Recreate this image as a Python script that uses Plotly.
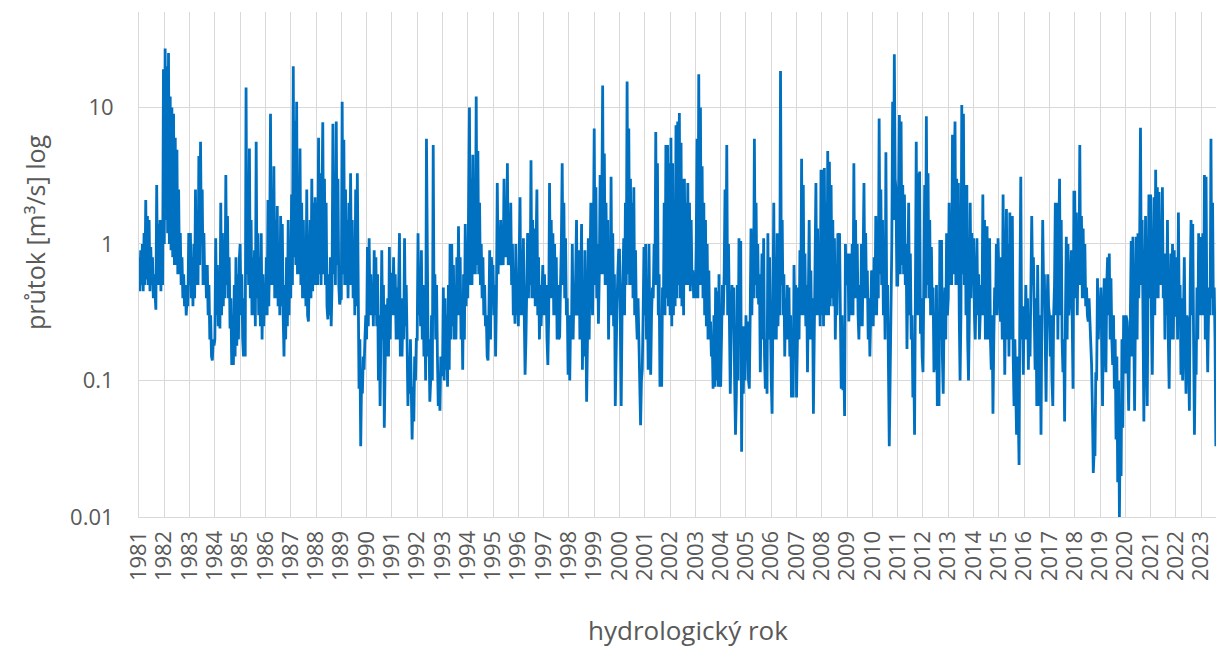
import plotly.graph_objects as go

# Discharge record, hydrological years 1981-2023 (m3/s), read as
# alternating highs and lows through each year.
flow_1981 = [0.8, 0.45, 0.9, 0.5, 1.0, 0.45, 1.2, 0.5, 2.1, 0.55, 1.6, 0.5, 1.5, 0.45, 0.95, 0.5, 0.8, 0.4, 0.6, 0.35, 0.33, 2.7, 0.5, 1.4, 0.5, 1.5, 0.45, 1.2, 0.5, 19]
flow_1982 = [1.0, 27, 1.5, 20, 1.2, 25, 1.0, 12, 0.9, 10, 0.8, 9, 0.7, 6, 0.7, 4.9, 0.6, 2.5, 0.6, 1.2, 0.5, 0.8, 0.4, 0.6, 0.35, 0.5, 0.3, 0.4, 0.35, 1.2]
flow_1983 = [0.5, 1.2, 0.4, 0.8, 0.35, 1.0, 0.4, 2.5, 0.5, 1.5, 0.5, 4.4, 0.7, 5.6, 1.0, 2.5, 0.5, 1.2, 0.5, 0.7, 0.4, 0.7, 0.3, 0.5, 0.2, 0.3, 0.15, 0.14, 0.2, 0.18]
flow_1984 = [0.2, 1.1, 0.3, 0.7, 0.25, 0.5, 0.24, 2.0, 0.3, 1.2, 0.35, 1.0, 0.4, 3.2, 0.5, 1.6, 0.4, 0.8, 0.24, 0.4, 0.13, 0.3, 0.13, 0.5, 0.15, 0.8, 0.18, 0.6, 0.2, 0.78]
flow_1985 = [1.0, 0.3, 0.6, 0.2, 0.15, 0.4, 0.15, 14, 0.6, 3.0, 0.5, 5.0, 0.4, 1.5, 0.3, 0.8, 0.3, 0.9, 0.25, 5.6, 0.4, 1.2, 0.3, 0.8, 0.25, 1.2, 0.2, 0.6, 0.25, 0.5]
flow_1986 = [0.3, 0.8, 0.3, 2.1, 0.35, 1.0, 9.0, 0.5, 2.5, 0.5, 3.7, 0.4, 1.5, 0.4, 1.9, 0.35, 1.0, 0.3, 1.6, 0.35, 1.4, 0.3, 0.15, 0.5, 0.2, 0.8, 0.25, 1.5, 0.3, 1.0]
flow_1987 = [0.4, 2.3, 0.5, 20, 0.8, 8.0, 0.7, 11, 0.6, 3.0, 0.6, 5.0, 0.5, 2.0, 0.4, 1.5, 0.4, 1.0, 0.35, 2.5, 0.3, 0.27, 0.5, 1.5, 0.4, 3.0, 0.45, 2.0, 0.5, 2.2]
flow_1988 = [0.5, 2.0, 0.5, 6.0, 0.6, 3.3, 0.5, 2.5, 7.8, 0.6, 3.0, 0.5, 2.0, 0.35, 0.28, 0.6, 0.3, 0.8, 0.25, 0.5, 7.6, 0.6, 2.5, 0.5, 7.9, 0.7, 3.0, 0.5, 0.36, 0.4]
flow_1989 = [0.4, 11, 0.6, 5.8, 0.5, 2.5, 0.5, 1.5, 0.4, 2.0, 0.5, 3.3, 0.5, 1.5, 0.4, 1.0, 0.3, 2.5, 0.35, 3.3, 0.3, 0.087, 0.2, 0.033, 0.1, 0.08, 0.15, 0.12, 0.2, 0.3]
flow_1990 = [0.2, 0.95, 0.25, 1.1, 0.3, 0.6, 0.3, 0.48, 0.25, 0.9, 0.3, 0.8, 0.25, 0.6, 0.1, 0.3, 0.065, 0.3, 0.9, 0.2, 0.5, 0.045, 0.15, 0.36, 0.15, 0.4, 0.15, 0.95, 0.2, 0.6]
flow_1991 = [0.6, 0.3, 0.8, 0.3, 0.6, 0.2, 0.48, 0.2, 0.5, 1.2, 0.15, 0.4, 0.15, 0.3, 0.2, 1.1, 0.25, 0.5, 0.2, 0.065, 0.15, 0.08, 0.2, 0.05, 0.037, 0.09, 0.05, 0.15, 0.1, 0.2]
flow_1992 = [0.2, 1.2, 0.3, 0.6, 0.25, 0.9, 0.2, 0.5, 0.15, 0.4, 0.1, 5.9, 0.3, 0.15, 0.2, 0.07, 0.1, 0.3, 0.1, 5.3, 0.3, 0.6, 0.2, 0.5, 0.15, 0.065, 0.1, 0.06, 0.15, 0.11]
flow_1993 = [0.11, 0.48, 0.1, 0.4, 0.12, 0.3, 0.09, 0.5, 0.12, 1.0, 0.2, 1.0, 0.25, 0.7, 0.2, 0.5, 0.2, 0.8, 0.3, 1.35, 0.3, 0.8, 0.2, 0.4, 0.12, 0.6, 0.2, 1.4, 0.35, 0.8]
flow_1994 = [0.4, 1.5, 10, 0.5, 3.0, 0.5, 4.5, 0.6, 2.0, 0.6, 12, 0.7, 4.8, 0.6, 2.0, 0.5, 1.0, 0.4, 0.8, 0.3, 0.5, 0.25, 0.3, 0.15, 0.14, 0.3, 0.9, 0.2, 0.8, 0.6]
flow_1995 = [0.7, 0.3, 0.5, 0.15, 0.4, 2.8, 0.6, 1.2, 0.7, 1.5, 0.7, 1.2, 0.7, 3.0, 0.8, 1.5, 0.8, 3.9, 0.7, 1.3, 0.7, 2.0, 0.5, 1.0, 0.3, 0.5, 0.26, 1.0, 0.3, 0.6]
flow_1996 = [0.25, 0.8, 2.2, 0.3, 0.9, 0.3, 1.1, 0.3, 0.11, 0.2, 0.5, 1.2, 0.4, 1.0, 0.5, 4.1, 0.4, 1.5, 0.4, 1.3, 0.35, 0.9, 2.5, 0.3, 0.8, 0.2, 0.5, 0.25, 0.6, 0.7]
flow_1997 = [0.3, 0.6, 0.3, 0.5, 0.2, 0.13, 0.3, 2.8, 0.4, 1.5, 0.4, 1.2, 0.3, 1.0, 0.3, 0.8, 0.2, 0.5, 0.2, 0.21, 0.5, 1.0, 3.9, 0.5, 2.0, 0.4, 1.1, 0.3, 0.4, 0.11]
flow_1998 = [0.3, 0.1, 0.3, 0.2, 1.0, 0.2, 0.5, 0.3, 0.6, 1.5, 0.3, 0.6, 0.9, 0.2, 0.5, 1.4, 0.12, 0.4, 0.15, 0.9, 0.3, 0.07, 0.2, 1.1, 0.2, 0.5, 2.0, 0.6, 0.3, 1.0]
flow_1999 = [7.0, 0.5, 2.6, 0.4, 1.0, 0.26, 0.6, 3.2, 0.6, 2.0, 14.5, 0.6, 4.6, 0.5, 2.0, 0.5, 1.5, 0.2, 0.6, 0.3, 3.1, 0.3, 1.2, 0.25, 0.6, 0.065, 0.3, 0.36, 0.6, 0.9]
flow_2000 = [0.9, 0.3, 0.065, 0.3, 0.5, 1.1, 0.3, 2.0, 0.5, 15.5, 0.6, 7.0, 0.5, 3.0, 0.5, 2.0, 0.4, 2.6, 0.3, 0.9, 0.3, 0.2, 0.4, 0.15, 0.1, 0.047, 0.1, 0.12, 0.3, 0.95]
flow_2001 = [0.3, 1.0, 0.2, 0.5, 0.12, 1.0, 0.2, 0.11, 0.3, 0.48, 0.4, 1.0, 0.5, 6.6, 0.5, 3.9, 0.3, 0.6, 0.09, 0.2, 0.09, 0.48, 0.3, 2.0, 0.3, 5.3, 0.4, 5.3, 0.35, 3.9]
flow_2002 = [0.3, 6.0, 0.25, 3.9, 0.3, 2.0, 0.35, 7.4, 0.4, 7.9, 0.5, 9.1, 0.4, 5.5, 0.35, 3.0, 0.3, 3.0, 0.5, 2.0, 0.5, 2.8, 0.5, 2.0, 0.45, 1.5, 0.5, 0.64, 0.4, 0.5]
flow_2003 = [0.4, 1.0, 5.9, 0.4, 17.5, 0.5, 10, 0.5, 3.7, 0.4, 2.0, 0.3, 1.5, 0.25, 1.0, 0.2, 0.64, 0.2, 0.27, 0.15, 0.2, 0.087, 0.3, 0.09, 0.48, 0.1, 0.45, 0.09, 0.6, 0.1]
flow_2004 = [0.09, 0.2, 0.5, 0.3, 0.6, 2.5, 0.5, 5.3, 0.3, 1.0, 0.3, 0.08, 0.2, 0.5, 0.3, 0.48, 0.1, 0.04, 0.08, 0.5, 0.1, 1.1, 0.3, 1.05, 0.03, 0.25, 0.08, 0.25, 0.1]
flow_2005 = [0.3, 0.15, 0.27, 0.1, 0.087, 0.3, 1.3, 0.3, 0.8, 0.4, 5.9, 0.5, 2.0, 0.4, 1.0, 0.36, 0.6, 0.115, 0.3, 0.85, 0.2, 1.1, 0.15, 0.087, 0.2, 0.08, 1.2, 0.2, 0.8, 0.14]
flow_2006 = [0.1, 0.057, 0.3, 2.0, 0.2, 0.8, 0.2, 1.2, 0.25, 0.64, 0.3, 18.5, 0.5, 1.5, 0.3, 0.6, 0.15, 0.4, 0.2, 0.5, 0.2, 0.48, 0.15, 0.3, 0.075, 0.2, 0.075, 0.7, 0.3, 0.5]
flow_2007 = [0.075, 0.3, 0.48, 0.2, 0.9, 0.3, 4.2, 0.3, 2.7, 0.3, 0.85, 0.25, 0.5, 0.115, 0.3, 1.5, 0.2, 0.64, 0.2, 0.4, 0.057, 0.2, 0.3, 2.8, 0.3, 1.3, 0.3, 0.8, 0.25, 3.5]
flow_2008 = [0.3, 3.5, 0.25, 3.6, 0.3, 2.0, 0.3, 4.8, 0.3, 4.0, 0.35, 2.7, 0.4, 1.5, 0.35, 1.1, 0.2, 0.6, 0.3, 1.2, 0.6, 1.2, 0.3, 0.087, 0.3, 0.085, 0.15, 0.055, 1.0, 0.5]
flow_2009 = [0.6, 0.85, 0.27, 0.5, 0.85, 0.3, 1.0, 0.3, 3.9, 0.4, 1.5, 0.4, 1.0, 0.3, 0.2, 0.5, 0.25, 1.0, 0.25, 0.8, 2.8, 0.4, 1.2, 0.4, 0.64, 0.2, 0.4, 0.15, 0.3, 0.64]
flow_2010 = [0.6, 0.25, 0.8, 0.3, 1.6, 0.3, 1.0, 0.4, 8.3, 0.6, 2.5, 0.5, 1.5, 0.3, 0.8, 0.2, 4.7, 0.3, 0.5, 0.07, 0.033, 0.1, 0.26, 1.0, 11, 1.5, 24.5, 3.0, 2.5, 0.5]
flow_2011 = [0.5, 1.5, 8.8, 0.6, 7.9, 0.7, 2.7, 0.6, 2.3, 0.5, 1.0, 0.17, 0.5, 2.0, 0.3, 0.85, 0.2, 0.3, 0.075, 0.15, 0.04, 0.3, 5.6, 0.3, 3.3, 0.3, 3.4, 0.22, 0.4, 0.15]
flow_2012 = [0.115, 0.5, 2.7, 0.4, 8.6, 0.5, 3.3, 0.4, 1.5, 0.3, 0.95, 0.3, 0.48, 0.115, 0.3, 0.12, 0.5, 0.065, 0.3, 0.065, 1.07, 0.2, 1.07, 0.15, 0.08, 0.3, 0.48, 0.2, 1.2, 0.3]
flow_2013 = [0.4, 2.0, 0.5, 1.5, 0.5, 6.3, 0.6, 3.0, 7.9, 0.5, 3.0, 0.5, 2.8, 0.3, 0.1, 0.3, 10.4, 0.6, 9.0, 0.5, 2.7, 0.3, 2.7, 0.2, 0.1, 0.3, 2.0, 0.4, 1.2, 0.5]
flow_2014 = [1.1, 0.3, 0.2, 0.5, 1.1, 0.3, 0.6, 0.2, 0.36, 0.5, 0.3, 2.3, 0.3, 1.5, 0.2, 0.8, 1.35, 0.2, 0.6, 1.1, 0.2, 0.12, 0.3, 0.057, 0.2, 0.48, 0.3, 1.0, 0.3, 1.1]
flow_2015 = [0.64, 0.3, 0.27, 0.8, 0.2, 2.3, 0.3, 0.11, 0.4, 1.8, 0.2, 1.0, 0.15, 1.7, 0.2, 0.8, 1.6, 0.15, 0.065, 0.2, 0.05, 0.04, 0.15, 0.03, 0.024, 0.5, 3.1, 0.2, 0.3, 0.11]
flow_2016 = [0.35, 0.2, 0.5, 0.2, 0.4, 0.12, 0.3, 0.15, 0.4, 1.6, 0.5, 0.8, 0.3, 0.12, 0.4, 0.065, 0.7, 0.2, 0.065, 0.3, 0.04, 0.3, 1.5, 0.5, 0.6, 0.2, 0.07, 0.3, 0.6, 0.35]
flow_2017 = [0.3, 0.15, 0.3, 0.1, 0.065, 0.3, 0.5, 2.0, 0.3, 2.0, 0.2, 1.0, 3.0, 0.3, 1.5, 0.2, 0.115, 0.2, 0.05, 0.3, 1.13, 0.2, 1.0, 0.3, 0.36, 0.5, 0.9, 0.2, 0.087, 2.4]
flow_2018 = [2.4, 0.4, 1.7, 0.3, 1.0, 0.5, 5.3, 0.5, 1.6, 0.4, 1.3, 0.4, 1.0, 0.35, 0.48, 0.3, 0.27, 0.4, 0.28, 0.2, 0.13, 0.06, 0.021, 0.03, 0.028, 0.115, 0.1, 0.56, 0.2, 0.36]
flow_2019 = [0.3, 0.48, 0.2, 0.065, 0.3, 0.56, 0.2, 0.115, 0.5, 0.8, 0.3, 0.85, 0.2, 0.56, 0.2, 0.13, 0.3, 0.087, 0.2, 0.037, 0.15, 0.018, 0.1, 0.01, 0.05, 0.02, 0.2, 0.045, 0.3, 0.115]
flow_2020 = [0.115, 0.3, 0.27, 0.1, 0.06, 0.2, 0.3, 1.05, 0.15, 1.13, 0.2, 0.06, 0.3, 1.13, 0.2, 1.2, 0.4, 1.0, 7.1, 0.5, 1.5, 0.2, 0.05, 0.3, 1.6, 0.2, 0.065, 0.5, 2.3, 0.4]
flow_2021 = [2.3, 0.3, 0.11, 0.5, 2.2, 0.3, 3.5, 0.4, 2.6, 0.4, 2.4, 0.5, 1.0, 0.5, 2.6, 0.4, 0.85, 0.2, 0.85, 0.3, 1.5, 0.2, 0.087, 0.3, 0.85, 0.2, 1.0, 0.2, 0.9, 0.3]
flow_2022 = [0.3, 0.8, 0.2, 1.7, 0.3, 0.5, 0.11, 0.4, 0.1, 0.3, 0.8, 0.2, 0.08, 0.3, 0.27, 0.15, 0.06, 0.5, 1.5, 0.3, 1.4, 0.2, 0.04, 0.15, 0.11, 0.48, 0.2, 1.2, 0.3, 1.1]
flow_2023 = [1.1, 0.3, 1.2, 0.3, 3.2, 0.2, 3.1, 0.3, 0.115, 0.3, 0.48, 0.3, 5.9, 0.4, 2.0, 0.3, 0.48, 0.2, 0.033]

years = list(range(1981, 2024))
year_labels = [str(y) for y in years]
flows = [flow_1981, flow_1982, flow_1983, flow_1984, flow_1985, flow_1986, flow_1987,
         flow_1988, flow_1989, flow_1990, flow_1991, flow_1992, flow_1993, flow_1994,
         flow_1995, flow_1996, flow_1997, flow_1998, flow_1999, flow_2000, flow_2001,
         flow_2002, flow_2003, flow_2004, flow_2005, flow_2006, flow_2007, flow_2008,
         flow_2009, flow_2010, flow_2011, flow_2012, flow_2013, flow_2014, flow_2015,
         flow_2016, flow_2017, flow_2018, flow_2019, flow_2020, flow_2021, flow_2022,
         flow_2023]
record_end = 2023.58  # the last year of the record is incomplete

y_ticks = [0.01, 0.1, 1, 10]
y_tick_labels = ["0.01", "0.1", "1", "10"]

# Spread each year's samples evenly over its time span
t, q = [], []
for yr, vals in zip(years, flows):
    if yr == years[-1]:
        step = (record_end - yr) / (len(vals) - 1)
    else:
        step = 1.0 / len(vals)
    for i, v in enumerate(vals):
        t.append(yr + i * step)
        q.append(v)

FONT = "Open Sans"
TEXT = "#595959"
GRID = "#D9D9D9"

fig = go.Figure()
fig.add_trace(go.Scatter(
    x=t, y=q, mode="lines",
    line=dict(color="#0070C0", width=2.8),
    hoverinfo="skip", showlegend=False,
))

L, R, T, B = 139, 1, 12, 131
W, H = 1217, 648
pw, ph = W - L - R, H - T - B

fig.update_layout(
    width=W, height=H,
    margin=dict(l=L, r=R, t=T, b=B, pad=0),
    paper_bgcolor="white", plot_bgcolor="white",
    font=dict(family=FONT, color=TEXT, size=22),
    showlegend=False,
)
fig.update_xaxes(
    range=[1981, 1981 + pw / 25.29],
    tickmode="array", tickvals=years, ticktext=year_labels,
    tickangle=-90, tickfont=dict(size=22, color=TEXT, family=FONT),
    ticklabelstandoff=4,
    showgrid=True, gridcolor=GRID, gridwidth=1,
    showline=True, linecolor=GRID, linewidth=1,
    zeroline=False, ticks="",
)
fig.update_yaxes(
    type="log", range=[-2, 1.699],
    tickmode="array", tickvals=y_ticks, ticktext=y_tick_labels,
    tickfont=dict(size=22, color=TEXT, family=FONT),
    ticklabelstandoff=20,
    showgrid=True, gridcolor=GRID, gridwidth=1,
    showline=True, linecolor=GRID, linewidth=1,
    zeroline=False, ticks="",
)

# Axis titles
fig.add_annotation(
    text="průtok [m³/s] log", textangle=-90,
    xref="paper", yref="paper",
    x=(35 - L) / pw, y=(H - B - 232) / ph,
    xanchor="center", yanchor="middle", showarrow=False,
    font=dict(size=25, color=TEXT, family=FONT),
)
fig.add_annotation(
    text="hydrologický rok",
    xref="paper", yref="paper",
    x=(688 - L) / pw, y=(H - B - 630) / ph,
    xanchor="center", yanchor="middle", showarrow=False,
    font=dict(size=26, color=TEXT, family=FONT),
)

fig.write_html("out.html")
